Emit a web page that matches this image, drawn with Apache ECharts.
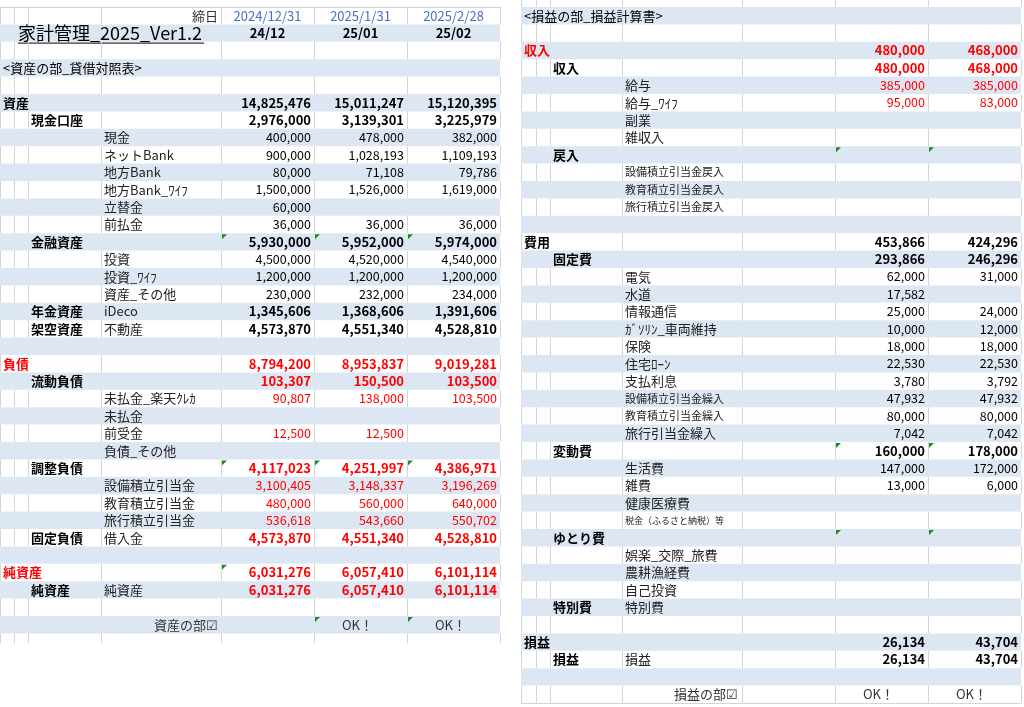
<!DOCTYPE html>
<html><head><meta charset="utf-8">
<script src="https://cdn.jsdelivr.net/npm/echarts@6/dist/echarts.min.js"></script>
<style>html,body{margin:0;padding:0;background:#fff}#c{width:1024px;height:707px}</style>
</head><body><div id="c"></div>
<script>
// ---- data ----
const dates = ['2024/12/31','2025/1/31','2025/2/28'];
const months = ['24/12','25/01','25/02'];
const titleText = '家計管理_2025_Ver1.2';
const bsTitle = '<資産の部_貸借対照表>';
const plTitle = '<損益の部_損益計算書>';
// balance sheet rows (sheet rows 5..33)
const bsGroup = ['資産','現金口座','','','','','','','金融資産','','','','年金資産','架空資産','','負債','流動負債','','','','','調整負債','','','','固定負債','','純資産','純資産'];
const bsLevel = [0,1,2,2,2,2,2,2,1,2,2,2,1,1,-1,0,1,2,2,2,2,1,2,2,2,1,-1,0,1];
const bsItem = ['','','現金','ネットBank','地方Bank','地方Bank_ﾜｲﾌ','立替金','前払金','','投資','投資_ﾜｲﾌ','資産_その他','iDeco','不動産','','','','未払金_楽天ｸﾚｶ','未払金','前受金','負債_その他','','設備積立引当金','教育積立引当金','旅行積立引当金','借入金','','','純資産'];
const bs2412 = [14825476,2976000,400000,900000,80000,1500000,60000,36000,5930000,4500000,1200000,230000,1345606,4573870,null,8794200,103307,90807,null,12500,null,4117023,3100405,480000,536618,4573870,null,6031276,6031276];
const bs2501 = [15011247,3139301,478000,1028193,71108,1526000,null,36000,5952000,4520000,1200000,232000,1368606,4551340,null,8953837,150500,138000,null,12500,null,4251997,3148337,560000,543660,4551340,null,6057410,6057410];
const bs2502 = [15120395,3225979,382000,1109193,79786,1619000,null,36000,5974000,4540000,1200000,234000,1391606,4528810,null,9019281,103500,103500,null,null,null,4386971,3196269,640000,550702,4528810,null,6101114,6101114];
// income statement rows (sheet rows 2..37)
const plGroup = ['収入','収入','','','','','戻入','','','','','費用','固定費','','','','','','','','','','','変動費','','','','','ゆとり費','','','','特別費','','損益','損益'];
const plLevel = [0,1,2,2,2,2,1,2,2,2,-1,0,1,2,2,2,2,2,2,2,2,2,2,1,2,2,2,2,1,2,2,2,1,-1,0,1];
const plItem = ['','','給与','給与_ﾜｲﾌ','副業','雑収入','','設備積立引当金戻入','教育積立引当金戻入','旅行積立引当金戻入','','','','電気','水道','情報通信','ｶﾞｿﾘﾝ_車両維持','保険','住宅ﾛｰﾝ','支払利息','設備積立引当金繰入','教育積立引当金繰入','旅行引当金繰入','','生活費','雑費','健康医療費','税金（ふるさと納税）等','','娯楽_交際_旅費','農耕漁経費','自己投資','特別費','','','損益'];
const pl2501 = [480000,480000,385000,95000,null,null,null,null,null,null,null,453866,293866,62000,17582,25000,10000,18000,22530,3780,47932,80000,7042,160000,147000,13000,null,null,null,null,null,null,null,null,26134,26134];
const pl2502 = [468000,468000,385000,83000,null,null,null,null,null,null,null,424296,246296,31000,null,24000,12000,18000,22530,3792,47932,80000,7042,178000,172000,6000,null,null,null,null,null,null,null,null,43704,43704];
const checkLabels = ['資産の部☑','損益の部☑'];
const checkResult = 'OK！';

// ---- layout ----
const COLS = [[0,14,28,101,221,314,407,500],[521,536,550,622,742,835,928,1021]];
const TOP = 7, RH = 17.4;
const BLUE = '#dde7f3', LINE = '#d4d4d4', RED = '#ff0000', DATEC = '#4472c4';
const FONT = '"Noto Sans CJK JP","Noto Sans",sans-serif';
const fmt = v => v == null ? '' : v.toLocaleString('en-US');

// Build rows: each {t: table, r: row, ...}
const rows = [];
// left table
rows.push({t:0,r:0,kind:'date'});
rows.push({t:0,r:1,kind:'title'});
rows.push({t:0,r:2});
rows.push({t:0,r:3,kind:'sect',text:bsTitle});
rows.push({t:0,r:4});
bsGroup.forEach((g,i)=>{
  rows.push({t:0,r:5+i,level:bsLevel[i],group:g,item:bsItem[i],vals:[bs2412[i],bs2501[i],bs2502[i]],red:i>=15,labelRed:i>=15&&bsLevel[i]===0,small:0});
});
rows.push({t:0,r:34});
rows.push({t:0,r:35,kind:'check'});
rows.push({t:0,r:36,partial:10});
// right table
rows.push({t:1,r:-1,partial:7});
rows.push({t:1,r:0,kind:'sect',text:plTitle});
rows.push({t:1,r:1});
plGroup.forEach((g,i)=>{
  const sm = [7,8,9,20,21].includes(i)?1:(i===27?2:0);
  rows.push({t:1,r:2+i,level:plLevel[i],group:g,item:plItem[i],vals:[null,pl2501[i],pl2502[i]],red:i<=5,labelRed:i===0,small:sm});
});
rows.push({t:1,r:38});
rows.push({t:1,r:39,kind:'check'});
const triangles = [[0,13,[4,5,6]],[0,26,[4,5,6]],[0,32,[4]],[0,35,[5,6]],[1,8,[5,6]],[1,25,[5,6]],[1,30,[5,6]]];

function isBlue(t,r){ return t===0 ? (r%2===1) : (r>=0 && r%2===0); }

function renderItem(params, api){
  const row = rows[params.dataIndex];
  const C = COLS[row.t];
  const top = row.r<0 ? 0 : TOP + RH*row.r;
  const h = row.partial || RH;
  const P = (x,y)=>api.coord([x,y]);
  const a = P(C[0], top), b = P(C[7], top+h);
  const ch = [];
  const blue = isBlue(row.t,row.r);
  if (blue) ch.push({type:'rect',shape:{x:a[0],y:a[1],width:b[0]-a[0],height:b[1]-a[1]},style:{fill:BLUE}});
  else {
    C.forEach((x,k)=>{
      if (row.level===0 && (k===1||k===2)) return;
      const p1=P(x,top), p2=P(x,top+h);
      ch.push({type:'line',shape:{x1:p1[0]+0.5,y1:p1[1],x2:p1[0]+0.5,y2:p2[1]},style:{stroke:LINE,lineWidth:1}});
    });
  }
  const cy = P(0, top+h/2)[1];
  const txt = (x,s,o)=>ch.push({type:'text',style:Object.assign({x:P(x,0)[0],y:cy,text:s,verticalAlign:'middle',align:'left',fill:'#000',font:'13px '+FONT},o||{})});
  if (row.kind==='date'){
    txt(C[4]-3,'締日',{align:'right',fill:'#333'});
    dates.forEach((d,k)=>txt((C[4+k]+C[5+k])/2,d,{align:'center',fill:DATEC,font:'13px '+FONT}));
  } else if (row.kind==='title'){
    txt(C[0]+18,titleText,{font:'18px '+FONT});
    const y=cy+10; ch.push({type:'line',shape:{x1:P(C[0]+18,0)[0],y1:y,x2:P(C[0]+204,0)[0],y2:y},style:{stroke:'#000',lineWidth:1}});
    months.forEach((m,k)=>txt((C[4+k]+C[5+k])/2,m,{align:'center',font:'bold 13px '+FONT}));
  } else if (row.kind==='sect'){
    txt(C[0]+3,row.text,{font:'13px '+FONT});
  } else if (row.kind==='check'){
    txt(row.t===0?C[4]-3:C[4]-4,checkLabels[row.t],{align:'right',fill:'#333'});
    [5,6].forEach(k=>txt((C[k]+C[k+1])/2-3,checkResult,{align:'center',fill:'#333'}));
  } else if (row.level!=null && row.level>=0){
    const bold = row.level<=1;
    if (row.group){
      const gx = row.level===0 ? C[0]+3 : C[2]+3;
      txt(gx,row.group,{font:(bold?'bold ':'')+'13px '+FONT,fill:row.labelRed?RED:'#000'});
    }
    if (row.item){
      const fs = row.small===1?'11px ':row.small===2?'9px ':'13px ';
      txt(C[3]+3,row.item,{font:fs+FONT,fill:'#222'});
    }
    row.vals.forEach((v,k)=>{
      if (v==null) return;
      txt(C[5+k]-3,fmt(v),{align:'right',fill:row.red?RED:'#000',font:(bold?'bold 13px ':'12.5px ')+FONT});
    });
    if (blue && row.level>=1) txt(C[1]+3,'··',{fill:'#f4f7fb',font:'10px '+FONT});
  }
  triangles.forEach(tr=>{
    if (tr[0]!==row.t||tr[1]!==row.r) return;
    tr[2].forEach(k=>{const p=P(C[k],top);ch.push({type:'polygon',shape:{points:[[p[0]+1,p[1]+1],[p[0]+6,p[1]+1],[p[0]+1,p[1]+6]]},style:{fill:'#1e8c1e'}});});
  });
  return {type:'group',children:ch};
}

const chart = echarts.init(document.getElementById('c'));
chart.setOption({
  animation:false,
  grid:{left:0,right:0,top:0,bottom:0},
  xAxis:{type:'value',min:0,max:1024,show:false},
  yAxis:{type:'value',min:0,max:707,inverse:true,show:false},
  series:[
    {type:'custom',renderItem,data:rows.map(r=>[r.t,r.r]),silent:true},
    {type:'custom',silent:true,data:[[0],[1]],renderItem:(p,api)=>{
      const C=COLS[p.dataIndex];
      const y = p.dataIndex===0?TOP:TOP+RH*40;
      const a=api.coord([C[0],y]),b=api.coord([C[7],y]);
      return {type:'line',shape:{x1:a[0],y1:a[1]+0.5,x2:b[0],y2:b[1]+0.5},style:{stroke:LINE,lineWidth:1}};
    }}
  ]
});
</script></body></html>
